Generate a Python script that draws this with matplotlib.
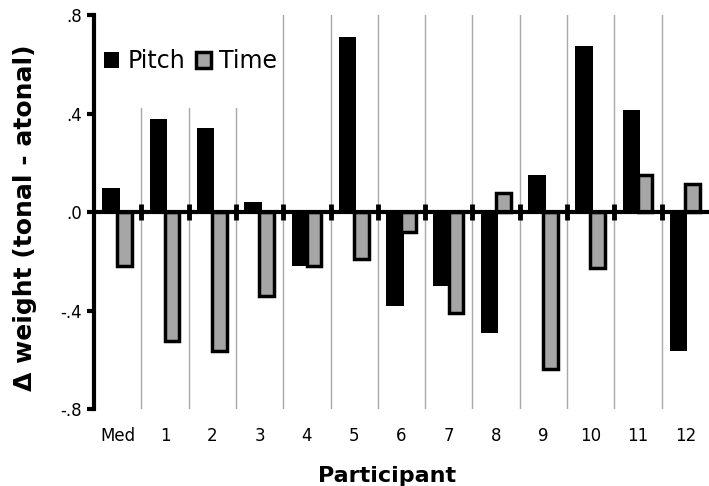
import matplotlib
matplotlib.use("Agg")
import matplotlib.pyplot as plt
from matplotlib.patches import Rectangle
import numpy as np

# Werte
participants = ["Med", "1", "2", "3", "4", "5", "6", "7", "8", "9", "10", "11", "12"]
pitch = [0.10, 0.38, 0.34, 0.04, -0.22, 0.71, -0.38, -0.30, -0.49, 0.15, 0.675, 0.415, -0.565]
time_w = [-0.22, -0.525, -0.565, -0.34, -0.22, -0.19, -0.08, -0.41, 0.078, -0.637, -0.225, 0.15, 0.115]
yticks = [0.8, 0.4, 0.0, -0.4, -0.8]
ytick_labels = [".8", ".4", ".0", "-.4", "-.8"]

plt.rcParams['font.family'] = ['DejaVu Sans']

fig = plt.figure(figsize=(7.09, 4.86), dpi=100)
ax = fig.add_axes([0.1326, 0.158, 0.8674, 0.811])

x = np.arange(len(participants))
gray = "#a6a6a6"

# Trennlinien zwischen den Teilnehmern
for b in x[:-1] + 0.5:
    ax.plot([b, b], [-0.8, 0.8], color="#a8a8a8", lw=1, zorder=1)

# weisser Hintergrund der Legende (wie in Excel)
ax.add_patch(Rectangle((0.003, 0.764), 0.29, 0.236, transform=ax.transAxes,
                       facecolor="white", edgecolor="none", zorder=2))

ax.bar(x - 0.14, pitch, width=0.37, color="black", label="Pitch", zorder=3)
ax.bar(x + 0.15, time_w, width=0.31, color=gray, edgecolor="black",
       linewidth=2.5, label="Time", zorder=4)

# Nulllinie mit Kreuzmarken
ax.axhline(0, color="black", lw=3, zorder=5)
for b in x[:-1] + 0.5:
    ax.plot([b, b], [-0.033, 0.033], color="black", lw=3.5, zorder=5,
            solid_capstyle="butt")

ax.set_xlim(-0.5, len(participants) - 0.5)
ax.set_ylim(-0.8, 0.8)
ax.set_yticks(yticks)
ax.set_yticklabels(ytick_labels, fontsize=12)
ax.set_xticks(x)
ax.set_xticklabels(participants, fontsize=12)
ax.tick_params(axis="x", length=0, pad=13)
ax.tick_params(axis="y", length=5, width=3, direction="out", pad=4)

for s in ["top", "right", "bottom"]:
    ax.spines[s].set_visible(False)
ax.spines["left"].set_linewidth(3)

ax.set_ylabel("\u0394 weight (tonal - atonal)", fontsize=18, fontweight="bold")
ax.yaxis.set_label_coords(-0.093, 0.487)
ax.set_xlabel("Participant", fontsize=16, fontweight="bold")
ax.xaxis.set_label_coords(0.476, -0.143)

leg = ax.legend(loc="center left", bbox_to_anchor=(0.016, 0.883), ncol=2,
                fontsize=17, frameon=False,
                handlelength=0.65, handleheight=0.65, handletextpad=0.35,
                columnspacing=0.45, borderpad=0, borderaxespad=0)
leg.set_zorder(6)

fig.savefig("out.png", dpi=100)
